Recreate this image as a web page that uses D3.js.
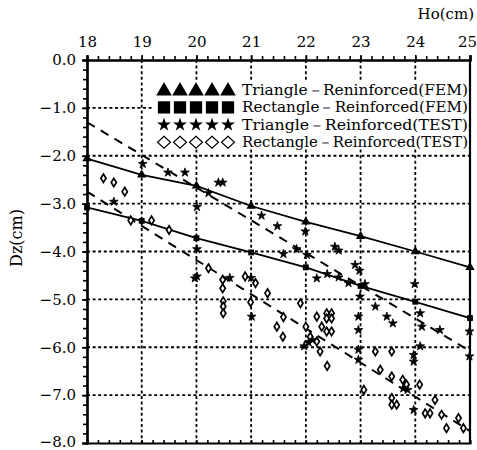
<!DOCTYPE html>
<html>
<head>
<meta charset="utf-8">
<script src="https://cdn.jsdelivr.net/npm/d3@7"></script>
<style>
  body { margin: 0; background: #fff; }
</style>
</head>
<body>
<svg id="chart" width="477" height="450" font-family="DejaVu Serif, Liberation Serif, serif"></svg>
<script>
// FEM values at each integer Ho
var femX = [18, 19, 20, 21, 22, 23, 24, 25];
var femTri = [-2.06, -2.40, -2.63, -3.05, -3.38, -3.68, -4.00, -4.33];
var femRect = [-3.08, -3.36, -3.72, -4.02, -4.33, -4.72, -5.05, -5.39];

// trend lines of the test data (end points)
var fitX = [18, 25];
var fitTri = [-1.30, -6.08];
var fitRect = [-2.75, -7.75];

// Triangle - Reinforced (TEST)
var testTriX = [19.02, 19.48, 19.79, 20.40, 20.48, 20.22, 20.01, 18.49, 20.01, 20.01, 21.19, 21.48, 21.99,
  21.59, 21.83, 22.02, 22.20, 22.39, 22.60, 22.78, 22.53, 22.60, 22.90, 22.98, 23.08, 22.99, 23.99, 21.01,
  22.96, 22.96, 22.96, 22.96, 23.27, 23.48, 23.59, 24.09, 24.12, 24.45, 23.97, 23.97, 23.97, 24.09, 24.99,
  24.99, 21.97, 22.05, 22.12, 23.78, 23.86, 19.97, 21.00, 20.61];
var testTriY = [-2.17, -2.35, -2.35, -2.56, -2.56, -2.78, -3.07, -2.96, -3.95, -4.52, -3.25, -3.47, -3.58,
  -4.05, -3.95, -4.07, -4.56, -4.47, -4.54, -4.66, -3.90, -3.98, -4.28, -4.40, -4.68, -4.94, -4.68, -5.36,
  -5.36, -5.64, -6.05, -6.26, -5.15, -5.36, -5.50, -5.29, -5.57, -5.64, -6.16, -6.30, -7.31, -5.98, -5.67,
  -6.19, -5.98, -5.90, -5.85, -6.86, -6.89, -4.56, -4.55, -4.55];

// Rectangle - Reinforced (TEST)
var testRectX = [18.30, 18.49, 18.69, 18.80, 19.18, 19.50, 20.22, 20.48, 20.48, 20.49, 20.49, 20.49, 20.89,
  21.08, 21.30, 20.99, 21.90, 21.59, 21.47, 21.58, 22.00, 22.08, 22.20, 22.20, 22.29, 22.38, 22.38, 22.47,
  22.47, 22.38, 22.47, 22.26, 22.39, 23.27, 23.57, 23.36, 23.57, 23.77, 23.84, 24.08, 23.06, 23.57, 23.57,
  23.66, 24.36, 24.18, 24.27, 24.48, 24.57, 24.79, 24.88];
var testRectY = [-2.47, -2.56, -2.75, -3.35, -3.35, -3.55, -4.35, -4.59, -4.77, -5.04, -5.15, -5.29, -4.52,
  -4.66, -4.87, -5.06, -5.08, -5.37, -5.57, -5.78, -5.57, -5.78, -5.88, -5.36, -5.57, -5.29, -5.40, -5.29,
  -5.40, -5.67, -5.67, -6.09, -6.39, -6.09, -6.09, -6.47, -6.61, -6.68, -6.78, -6.78, -6.89, -7.06, -7.20,
  -7.20, -7.10, -7.38, -7.38, -7.41, -7.69, -7.48, -7.69];

var xTicks = [18, 19, 20, 21, 22, 23, 24, 25];
var yTicks = [0, -1, -2, -3, -4, -5, -6, -7, -8];
var legendNames = ["Triangle\uFF0DReninforced(FEM)", "Rectangle\uFF0DReinforced(FEM)",
  "Triangle\uFF0DReinforced(TEST)", "Rectangle\uFF0DReinforced(TEST)"];

var pLeft = 87, pRight = 470, pTop = 60, pBottom = 443;
var serif = "DejaVu Serif, Liberation Serif, serif";

var svg = d3.select("#chart");

var x = d3.scaleLinear().domain([18, 25]).range([pLeft, pRight]);
var y = d3.scaleLinear().domain([0, -8]).range([pTop, pBottom]);

// dotted grid
var grid = svg.append("g")
  .attr("stroke", "#000")
  .attr("stroke-width", 1.8)
  .attr("stroke-dasharray", "3,2.6");

grid.selectAll(".gx").data(xTicks.slice(1, -1)).enter().append("line")
  .attr("x1", d => x(d)).attr("x2", d => x(d))
  .attr("y1", pTop).attr("y2", pBottom);

grid.selectAll(".gy").data(yTicks.slice(1, -1)).enter().append("line")
  .attr("x1", pLeft).attr("x2", pRight)
  .attr("y1", d => y(d)).attr("y2", d => y(d));

// lines
var line = d3.line().x(d => x(d[0])).y(d => y(d[1]));

svg.append("path")
  .datum(d3.zip(femX, femTri))
  .attr("d", line).attr("fill", "none").attr("stroke", "#000").attr("stroke-width", 1.8);
svg.append("path")
  .datum(d3.zip(femX, femRect))
  .attr("d", line).attr("fill", "none").attr("stroke", "#000").attr("stroke-width", 1.8);
svg.append("path")
  .datum(d3.zip(fitX, fitTri))
  .attr("d", line).attr("fill", "none").attr("stroke", "#000").attr("stroke-width", 2)
  .attr("stroke-dasharray", "9,7");
svg.append("path")
  .datum(d3.zip(fitX, fitRect))
  .attr("d", line).attr("fill", "none").attr("stroke", "#000").attr("stroke-width", 2)
  .attr("stroke-dasharray", "9,7");

// markers
var diamond = "M0,-4.2L2.6,0L0,4.2L-2.6,0Z";

svg.append("g").selectAll("path").data(d3.zip(testRectX, testRectY)).enter().append("path")
  .attr("transform", d => "translate(" + x(d[0]) + "," + y(d[1]) + ")")
  .attr("d", diamond)
  .attr("fill", "#fff").attr("stroke", "#000").attr("stroke-width", 1.7);

svg.append("g").selectAll("path").data(d3.zip(testTriX, testTriY)).enter().append("path")
  .attr("transform", d => "translate(" + x(d[0]) + "," + y(d[1]) + ")")
  .attr("d", d3.symbol(d3.symbolStar, 24))
  .attr("fill", "#000").attr("stroke", "#000").attr("stroke-width", 0.8);

svg.append("g").selectAll("path").data(d3.zip(femX, femTri)).enter().append("path")
  .attr("transform", d => "translate(" + x(d[0]) + "," + y(d[1]) + ")")
  .attr("d", d3.symbol(d3.symbolTriangle, 38))
  .attr("fill", "#000");

svg.append("g").selectAll("path").data(d3.zip(femX, femRect)).enter().append("path")
  .attr("transform", d => "translate(" + x(d[0]) + "," + y(d[1]) + ")")
  .attr("d", d3.symbol(d3.symbolSquare, 34))
  .attr("fill", "#000");

// legend
var legend = svg.append("g");
legend.append("rect")
  .attr("x", 153).attr("y", 80).attr("width", pRight - 154).attr("height", 69)
  .attr("fill", "#fff");

var legendShapes = [
  d3.symbol(d3.symbolTriangle, 105)(),
  d3.symbol(d3.symbolSquare, 150)(),
  d3.symbol(d3.symbolStar, 60)(),
  "M0,-6L6.5,0L0,6L-6.5,0Z"
];

legendNames.forEach(function (name, i) {
  var cy = 90 + i * 17.4;
  var row = legend.append("g");
  for (var k = 0; k < 5; k++) {
    row.append("path")
      .attr("transform", "translate(" + (164 + k * 16) + "," + (cy + (i == 0 ? 1 : 0)) + ")")
      .attr("d", legendShapes[i])
      .attr("fill", i == 3 ? "#fff" : "#000")
      .attr("stroke", i == 3 ? "#000" : "none")
      .attr("stroke-width", 1.2);
  }
  row.append("text")
    .attr("x", 242).attr("y", cy + 5)
    .attr("font-size", 14)
    .attr("textLength", 226)
    .attr("lengthAdjust", "spacingAndGlyphs")
    .text(name);
});

// axes
var axTop = svg.append("g").attr("transform", "translate(0," + pTop + ")")
  .call(d3.axisTop(x).tickValues(xTicks).tickSize(5).tickPadding(8).tickFormat(d3.format("d")));
svg.append("g").attr("transform", "translate(0," + pTop + ")")
  .call(d3.axisTop(x).tickValues(d3.range(18.2, 25, 0.2)).tickSize(4).tickFormat(""));

var axLeft = svg.append("g").attr("transform", "translate(" + pLeft + ",0)")
  .call(d3.axisLeft(y).tickValues(yTicks).tickSize(5).tickPadding(6).tickFormat(d3.format(".1f")));
svg.append("g").attr("transform", "translate(" + pLeft + ",0)")
  .call(d3.axisLeft(y).tickValues(d3.range(-0.2, -8, -0.2)).tickSize(4).tickFormat(""));

svg.append("g").attr("transform", "translate(0," + pBottom + ")")
  .call(d3.axisTop(x).tickValues(d3.range(18.2, 25, 0.2)).tickSize(3).tickFormat(""));

svg.selectAll("g").filter(function () { return this.hasAttribute("font-family"); })
  .attr("font-family", serif);
svg.selectAll(".domain").attr("stroke-width", 2.2);
svg.selectAll(".tick line").attr("stroke-width", 1.6);
svg.selectAll(".tick text").attr("font-size", 15).attr("fill", "#000");

// keep the end labels inside the picture
axTop.selectAll(".tick text").filter(d => d == 25).attr("dx", -3);
axLeft.selectAll(".tick text").filter(d => d == -8).attr("dy", "0.2em");

svg.append("line")
  .attr("x1", pRight).attr("x2", pRight).attr("y1", pTop - 1).attr("y2", pBottom + 1)
  .attr("stroke", "#000").attr("stroke-width", 2.2);

// axis titles
svg.append("text")
  .attr("x", 474).attr("y", 19)
  .attr("text-anchor", "end").attr("font-size", 15)
  .text("Ho(cm)");

svg.append("text")
  .attr("transform", "translate(22,238) rotate(-90)")
  .attr("text-anchor", "middle").attr("font-size", 16)
  .text("Dz(cm)");
</script>
</body>
</html>
